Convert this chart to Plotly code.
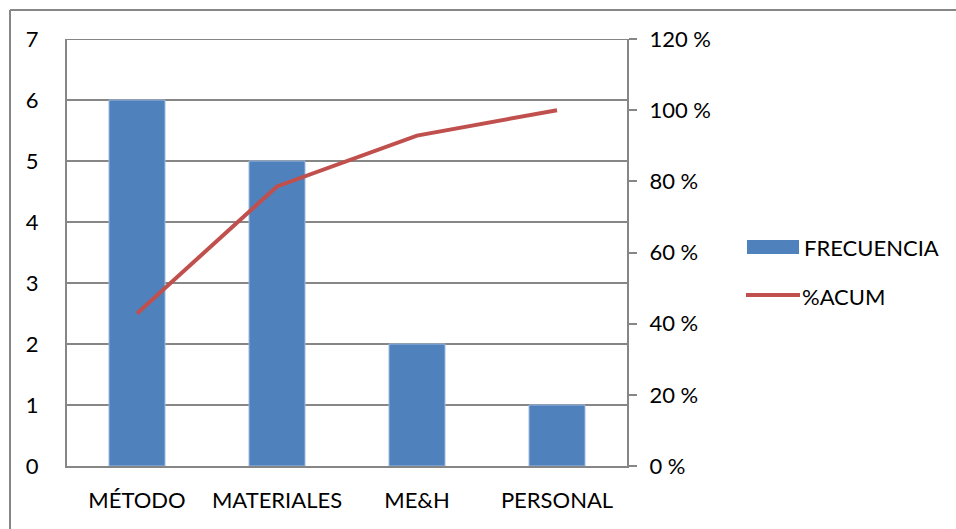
import plotly.graph_objects as go

categories = ["MÉTODO", "MATERIALES", "ME&H", "PERSONAL"]
frecuencia = [6, 5, 2, 1]
acum_pct = [42.86, 78.57, 92.86, 100.0]
left_ticks = [0, 1, 2, 3, 4, 5, 6, 7]
right_ticks = [0, 20, 40, 60, 80, 100, 120]
right_tick_labels = ["0 %", "20 %", "40 %", "60 %", "80 %", "100 %", "120 %"]

W, H = 956, 529
L, R, T, B = 67, 627, 39, 466
FONT = "Lato, Carlito, Calibri, sans-serif"
FS = 22

def px_x(x):
    return (x - L) / (R - L)

def px_y(y):
    return (B - y) / (B - T)

fig = go.Figure()
fig.add_trace(go.Bar(
    x=categories, y=frecuencia, name="FRECUENCIA",
    marker=dict(color="#4F81BD", line=dict(color="#9DB9DE", width=1)),
    width=0.4, showlegend=False,
))
fig.add_trace(go.Scatter(
    x=categories, y=acum_pct, name="%ACUM", yaxis="y2", mode="lines",
    line=dict(color="#C0504D", width=4), showlegend=False,
))

fig.update_layout(
    width=W, height=H,
    margin=dict(l=L, r=W - R, t=T, b=H - B),
    plot_bgcolor="white", paper_bgcolor="white",
    font=dict(family=FONT, size=FS, color="#000000"),
    xaxis=dict(
        showgrid=False, showline=True, linecolor="#868686", linewidth=2,
        mirror=False, ticks="", tickfont=dict(size=FS), ticklabelstandoff=14,
    ),
    yaxis=dict(
        range=[0, 7], tickvals=left_ticks, showgrid=True, gridcolor="#868686",
        gridwidth=2, showline=True, linecolor="#868686", linewidth=2,
        ticks="", tickfont=dict(size=FS), ticklabelstandoff=22, zeroline=False,
    ),
    yaxis2=dict(
        range=[0, 120], tickvals=right_ticks, ticktext=right_tick_labels,
        overlaying="y", side="right", showgrid=False, showline=True,
        linecolor="#868686", linewidth=2, ticks="outside", ticklen=8,
        tickcolor="#868686", tickwidth=2, tickfont=dict(size=FS),
        ticklabelstandoff=8, zeroline=False,
    ),
    shapes=[
        # top gridline at the range edge
        dict(type="line", xref="paper", yref="y", x0=0, x1=1, y0=7, y1=7,
             line=dict(color="#868686", width=2)),
        # outer chart border (top and left visible)
        dict(type="line", xref="paper", yref="paper",
             x0=px_x(10), x1=px_x(960), y0=px_y(10), y1=px_y(10),
             line=dict(color="#868686", width=2)),
        dict(type="line", xref="paper", yref="paper",
             x0=px_x(10), x1=px_x(10), y0=px_y(10), y1=px_y(540),
             line=dict(color="#868686", width=2)),
        # legend symbols
        dict(type="rect", xref="paper", yref="paper",
             x0=px_x(747), x1=px_x(799), y0=px_y(240), y1=px_y(254),
             fillcolor="#4F81BD", line=dict(width=0)),
        dict(type="line", xref="paper", yref="paper",
             x0=px_x(746), x1=px_x(800), y0=px_y(295), y1=px_y(295),
             line=dict(color="#C0504D", width=4)),
    ],
    annotations=[
        dict(text="FRECUENCIA", xref="paper", yref="paper", x=px_x(802), y=px_y(247),
             xanchor="left", yanchor="middle", showarrow=False, font=dict(size=FS)),
        dict(text="%ACUM", xref="paper", yref="paper", x=px_x(800), y=px_y(296),
             xanchor="left", yanchor="middle", showarrow=False, font=dict(size=FS)),
    ],
)

fig.write_html("out.html")
